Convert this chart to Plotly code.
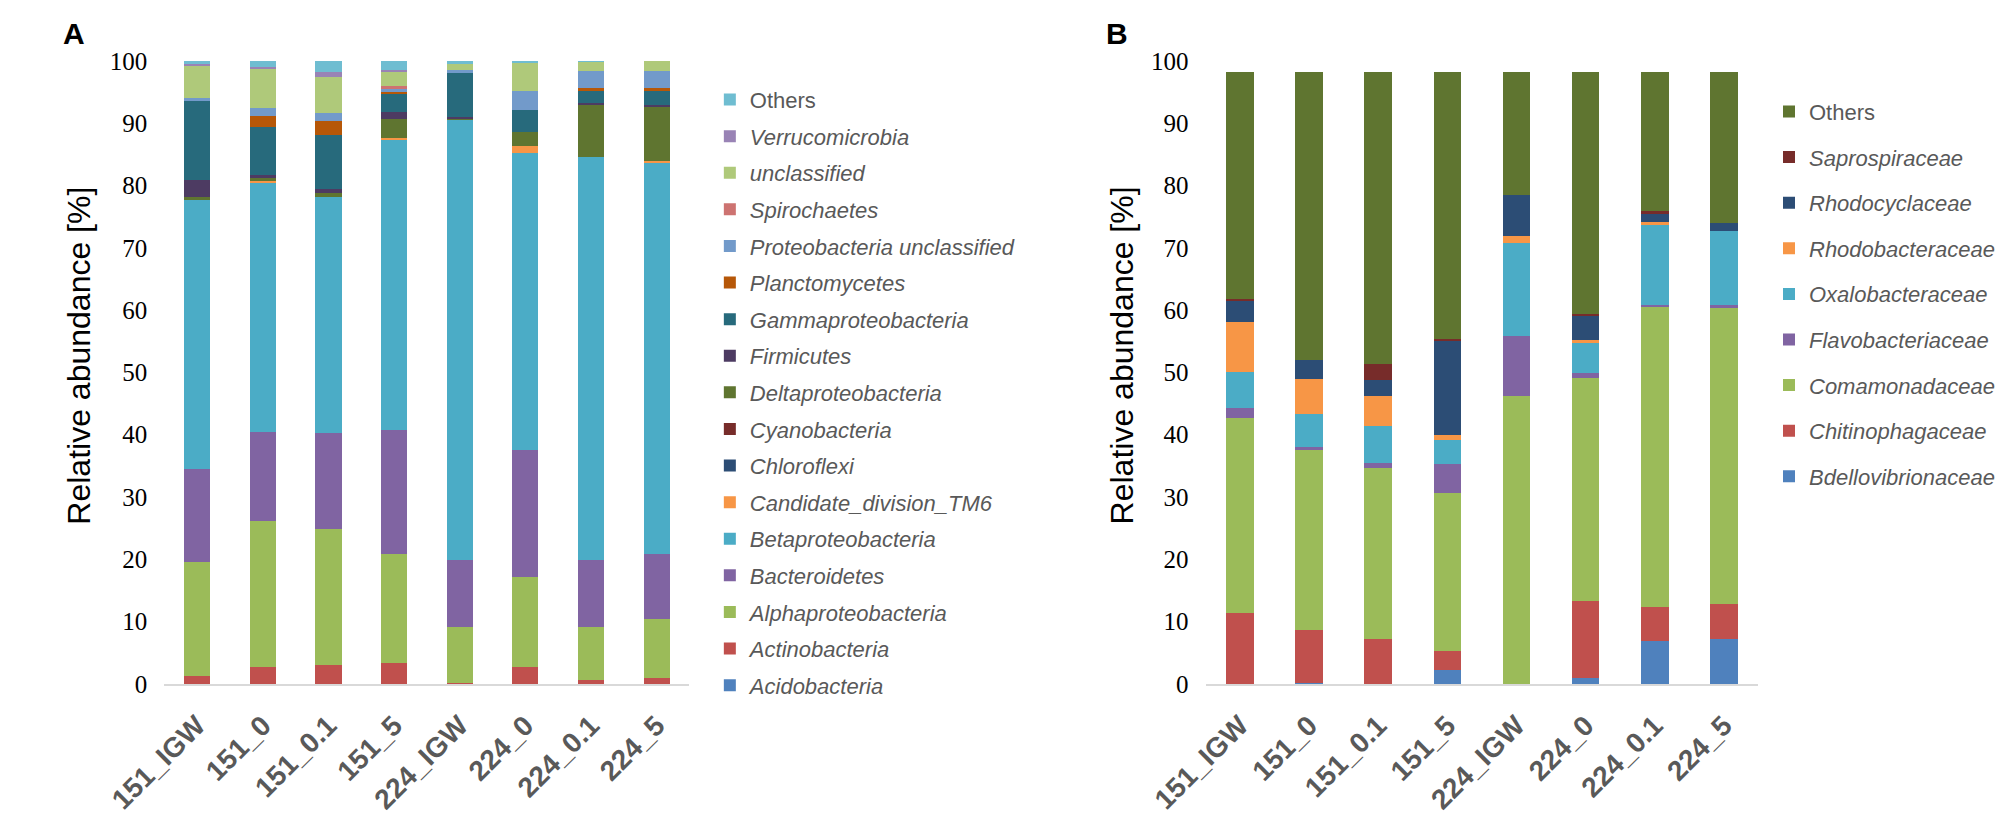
import plotly.graph_objects as go

samples = ["151_IGW", "151_0", "151_0.1", "151_5", "224_IGW", "224_0", "224_0.1", "224_5"]

# panel A, relative abundance [%] per sample, stack order bottom -> top
acidobacteria = [0, 0, 0, 0, 0, 0, 0, 0]
actinobacteria = [1.3, 2.7, 3.1, 3.3, 0.1, 2.7, 0.65, 0.95]
alphaproteobacteria = [18.3, 23.4, 21.8, 17.6, 9.0, 14.4, 8.55, 9.4]
bacteroidetes = [14.9, 14.3, 15.3, 19.9, 10.8, 20.4, 10.7, 10.45]
betaproteobacteria = [43.3, 40.1, 37.9, 46.6, 70.8, 47.8, 64.7, 62.95]
candidate_tm6 = [0, 0.2, 0, 0.3, 0, 1.1, 0, 0.25]
chloroflexi = [0, 0, 0, 0, 0, 0, 0, 0]
cyanobacteria = [0.1, 0, 0, 0, 0, 0, 0, 0]
deltaproteobacteria = [0.3, 0.5, 0.7, 3.0, 0.1, 2.2, 8.3, 8.75]
firmicutes = [2.7, 0.5, 0.6, 1.1, 0.2, 0, 0.35, 0.25]
gammaproteobacteria = [12.6, 7.7, 8.8, 2.9, 7.1, 3.5, 2.15, 2.35]
planctomycetes = [0, 1.7, 2.1, 0.4, 0, 0, 0.25, 0.25]
proteo_unclassified = [0.6, 1.3, 1.4, 0.6, 0.4, 3.1, 2.75, 2.85]
spirochaetes = [0, 0, 0, 0.3, 0, 0, 0, 0]
unclassified = [5.3, 6.3, 5.7, 2.4, 1.2, 4.7, 1.55, 1.55]
verrucomicrobia = [0.1, 0.4, 0.8, 0.2, 0, 0, 0, 0]
others_a = [0.5, 0.9, 1.8, 1.4, 0.3, 0.1, 0.05, 0]

# panel B, families
bdellovibrionaceae = [0, 0.2, 0, 2.2, 0, 1.0, 6.85, 7.2]
chitinophagaceae = [11.4, 8.4, 7.2, 3.1, 0, 12.3, 5.45, 5.6]
comamonadaceae = [31.3, 29.0, 27.4, 25.3, 46.3, 35.8, 48.3, 47.75]
flavobacteriaceae = [1.6, 0.4, 0.9, 4.7, 9.5, 0.8, 0.25, 0.25]
oxalobacteraceae = [5.8, 5.3, 5.95, 3.9, 15.0, 5.0, 12.9, 11.85]
rhodobacteraceae = [8.0, 5.7, 4.85, 0.7, 1.1, 0.3, 0.4, 0]
rhodocyclaceae = [3.35, 3.0, 2.5, 15.3, 6.6, 3.85, 1.5, 1.4]
saprospiraceae = [0.4, 0, 2.5, 0.15, 0, 0.35, 0.3, 0]
others_b = [36.45, 46.3, 47.0, 42.95, 19.8, 38.9, 22.35, 24.25]

series_a = [
    ("<i>Acidobacteria</i>", acidobacteria, "#4F81BD"),
    ("<i>Actinobacteria</i>", actinobacteria, "#C0504D"),
    ("<i>Alphaproteobacteria</i>", alphaproteobacteria, "#9BBB59"),
    ("<i>Bacteroidetes</i>", bacteroidetes, "#8064A2"),
    ("<i>Betaproteobacteria</i>", betaproteobacteria, "#4BACC6"),
    ("<i>Candidate_division_TM6</i>", candidate_tm6, "#F79646"),
    ("<i>Chloroflexi</i>", chloroflexi, "#2C4D75"),
    ("<i>Cyanobacteria</i>", cyanobacteria, "#772C2A"),
    ("<i>Deltaproteobacteria</i>", deltaproteobacteria, "#5F7530"),
    ("<i>Firmicutes</i>", firmicutes, "#4D3B62"),
    ("<i>Gammaproteobacteria</i>", gammaproteobacteria, "#276A7C"),
    ("<i>Planctomycetes</i>", planctomycetes, "#B65708"),
    ("<i>Proteobacteria unclassified</i>", proteo_unclassified, "#729ACA"),
    ("<i>Spirochaetes</i>", spirochaetes, "#CD7371"),
    ("<i>unclassified</i>", unclassified, "#AFC97A"),
    ("<i>Verrucomicrobia</i>", verrucomicrobia, "#9983B5"),
    ("Others", others_a, "#6FBDD1"),
]

series_b = [
    ("<i>Bdellovibrionaceae</i>", bdellovibrionaceae, "#4F81BD"),
    ("<i>Chitinophagaceae</i>", chitinophagaceae, "#C0504D"),
    ("<i>Comamonadaceae</i>", comamonadaceae, "#9BBB59"),
    ("<i>Flavobacteriaceae</i>", flavobacteriaceae, "#8064A2"),
    ("<i>Oxalobacteraceae</i>", oxalobacteraceae, "#4BACC6"),
    ("<i>Rhodobacteraceae</i>", rhodobacteraceae, "#F79646"),
    ("<i>Rhodocyclaceae</i>", rhodocyclaceae, "#2C4D75"),
    ("<i>Saprospiraceae</i>", saprospiraceae, "#772C2A"),
    ("Others", others_b, "#5F7530"),
]

fig = go.Figure()
# legend lists top of stack first, like the excel legend
for i, (name, vals, col) in enumerate(series_a):
    fig.add_trace(go.Bar(x=samples, y=vals, name=name, marker_color=col,
                         marker_line_width=0, legendgroup="a%d" % i, legendrank=100 - i,
                         xaxis="x", yaxis="y", legend="legend"))
for i, (name, vals, col) in enumerate(series_b):
    fig.add_trace(go.Bar(x=samples, y=vals, name=name, marker_color=col,
                         marker_line_width=0, legendgroup="b%d" % i, legendrank=100 - i,
                         xaxis="x2", yaxis="y2", legend="legend2"))

ydom = [0.1557, 0.9404]
xfont = dict(family="Liberation Sans", size=28, color="#595959", weight="bold")
yfont = dict(family="Liberation Serif", size=25, color="#000000")
legfont = dict(family="Liberation Sans", size=22, color="#595959")
titlefont = dict(family="Liberation Sans", size=32, color="black")

xax = dict(showline=True, linecolor="#D9D9D9", linewidth=2, ticks="outside", ticklen=12,
           tickcolor="rgba(0,0,0,0)", tickangle=-45, tickfont=xfont, showgrid=False)
yax = dict(range=[0, 100.4], tickvals=list(range(0, 101, 10)), showgrid=False,
           zeroline=False, showline=False, ticks="", tickfont=yfont, ticklabelstandoff=16)

fig.update_layout(
    width=2000, height=822,
    margin=dict(l=0, r=0, t=0, b=0),
    paper_bgcolor="white", plot_bgcolor="white",
    barmode="stack", bargap=0.6,
    xaxis=dict(domain=[0.0548, 0.3255], anchor="y", **xax),
    yaxis=dict(domain=ydom, anchor="x", **yax),
    xaxis2=dict(domain=[0.5915, 0.8765], anchor="y2", **xax),
    yaxis2=dict(domain=ydom, anchor="x2", **yax),
    legend=dict(x=0.336, y=0.915, xanchor="left", yanchor="top",
                traceorder="grouped", tracegroupgap=5, font=legfont,
                bgcolor="rgba(0,0,0,0)"),
    legend2=dict(x=0.882, y=0.90, xanchor="left", yanchor="top",
                 traceorder="grouped", tracegroupgap=14, font=legfont,
                 bgcolor="rgba(0,0,0,0)"),
    annotations=[
        dict(text="<b>A</b>", x=0.0015, y=0.995, xref="paper", yref="paper",
             xanchor="left", yanchor="top", showarrow=False,
             font=dict(family="Liberation Sans", size=30, color="black")),
        dict(text="<b>B</b>", x=0.539, y=0.995, xref="paper", yref="paper",
             xanchor="left", yanchor="top", showarrow=False,
             font=dict(family="Liberation Sans", size=30, color="black")),
        dict(text="Relative abundance [%]", x=0.011, y=0.568, xref="paper",
             yref="paper", textangle=-90, showarrow=False, xanchor="center",
             yanchor="middle", font=titlefont),
        dict(text="Relative abundance [%]", x=0.5485, y=0.568, xref="paper",
             yref="paper", textangle=-90, showarrow=False, xanchor="center",
             yanchor="middle", font=titlefont),
    ],
)

fig.write_html("out.html", config={"displayModeBar": False},
               post_script="document.body.style.margin='0';document.body.style.overflow='hidden';")
